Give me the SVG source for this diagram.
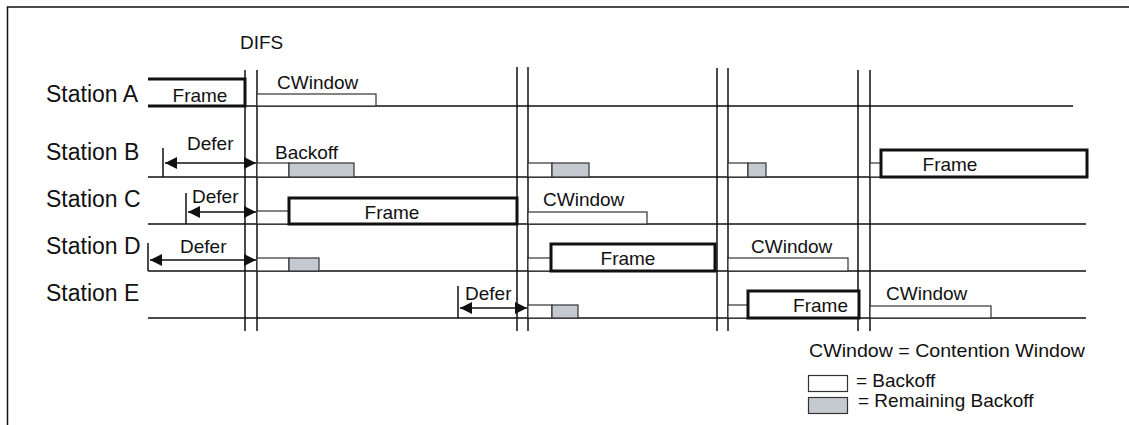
<svg xmlns="http://www.w3.org/2000/svg" width="1129" height="425" viewBox="0 0 1129 425">
<defs>
<marker id="ah" viewBox="0 0 12 12" refX="12" refY="6" markerWidth="12" markerHeight="12" markerUnits="userSpaceOnUse" orient="auto-start-reverse">
<path d="M0,0 L12,6 L0,12 z" fill="#111"/>
</marker>
<style>
text{font-family:"Liberation Sans",Arial,sans-serif;fill:#111}
.lbl{font-size:23px}
.t{font-size:19px}
.ln{stroke:#111;stroke-width:1.5;fill:none}
.thin{stroke:#333;stroke-width:1.2;fill:#fff}
.rem{stroke:#333;stroke-width:1.2;fill:#c5cad1}
.frm{stroke:#111;stroke-width:3;fill:#fff}
.arr{stroke:#111;stroke-width:1.5;fill:none;marker-start:url(#ah);marker-end:url(#ah)}
</style>
</defs>
<rect width="1129" height="425" fill="#fff"/>
<path class="ln" d="M7.5,425 V7 H1129"/>
<text class="t" x="240" y="49">DIFS</text>

<g id="connectors">
<path class="ln" d="M148,106 H1073 M148,177 H1087 M148,224 H1086 M148,271 H1086 M148,318 H1086"/>
<path class="ln" d="M245,70 V331 M257,70 V331 M517,67 V331 M528,67 V331 M717,68 V331 M728,68 V331 M858,70 V331 M870,70 V331"/>
</g>

<g id="stationA">
<text class="lbl" x="46" y="102">Station A</text>
<path stroke="#111" stroke-width="3" fill="none" d="M148,79 H245 V106 H148"/>
<text class="t" x="200" y="102" text-anchor="middle">Frame</text>
<rect class="thin" x="257" y="94" width="119" height="12"/>
<text class="t" x="277" y="89">CWindow</text>
</g>

<g id="stationB">
<text class="lbl" x="46" y="160">Station B</text>
<path class="ln" d="M163,148 V177"/>
<path class="arr" d="M165,163 H256"/>
<text class="t" x="187" y="150">Defer</text>
<rect class="thin" x="257" y="163" width="32" height="14"/>
<rect class="rem" x="289" y="163" width="65" height="14"/>
<text class="t" x="275" y="159">Backoff</text>
<rect class="thin" x="528" y="163" width="24" height="14"/>
<rect class="rem" x="552" y="163" width="37" height="14"/>
<rect class="thin" x="728" y="163" width="20" height="14"/>
<rect class="rem" x="748" y="163" width="18" height="14"/>
<rect class="thin" x="870" y="163" width="11" height="14"/>
<rect class="frm" x="881" y="150" width="206" height="27"/>
<text class="t" x="950" y="171" text-anchor="middle">Frame</text>
</g>

<g id="stationC">
<text class="lbl" x="46" y="207">Station C</text>
<path class="ln" d="M186,193 V224"/>
<path class="arr" d="M188,212 H256"/>
<text class="t" x="192" y="203">Defer</text>
<rect class="thin" x="257" y="211" width="32" height="13"/>
<rect class="frm" x="289" y="198" width="228" height="26"/>
<text class="t" x="392" y="219" text-anchor="middle">Frame</text>
<rect class="thin" x="528" y="212" width="119" height="12"/>
<text class="t" x="543" y="206">CWindow</text>
</g>

<g id="stationD">
<text class="lbl" x="46" y="254">Station D</text>
<path class="ln" d="M148,243 V271"/>
<path class="arr" d="M150,260 H256"/>
<text class="t" x="180" y="253">Defer</text>
<rect class="thin" x="257" y="258" width="32" height="13"/>
<rect class="rem" x="289" y="258" width="30" height="13"/>
<rect class="thin" x="528" y="258" width="23" height="13"/>
<rect class="frm" x="551" y="244" width="164" height="27"/>
<text class="t" x="628" y="265" text-anchor="middle">Frame</text>
<rect class="thin" x="728" y="258" width="120" height="13"/>
<text class="t" x="751" y="253">CWindow</text>
</g>

<g id="stationE">
<text class="lbl" x="46" y="301">Station E</text>
<path class="ln" d="M458,286 V318"/>
<path class="arr" d="M460,308 H527"/>
<text class="t" x="465" y="300">Defer</text>
<rect class="thin" x="528" y="305" width="24" height="13"/>
<rect class="rem" x="552" y="305" width="26" height="13"/>
<rect class="thin" x="728" y="305" width="20" height="13"/>
<rect class="frm" x="748" y="291" width="111" height="27"/>
<text class="t" x="848" y="312" text-anchor="end">Frame</text>
<rect class="thin" x="870" y="306" width="121" height="12"/>
<text class="t" x="886" y="300">CWindow</text>
</g>

<g id="legend">
<text class="t" x="809" y="357" textLength="276" lengthAdjust="spacingAndGlyphs">CWindow = Contention Window</text>
<rect class="thin" x="808.5" y="375.5" width="39" height="16"/>
<rect class="rem" x="808.5" y="397.5" width="39" height="16"/>
<text class="t" x="856" y="387">= Backoff</text>
<text class="t" x="858" y="407">= Remaining Backoff</text>
</g>
</svg>
